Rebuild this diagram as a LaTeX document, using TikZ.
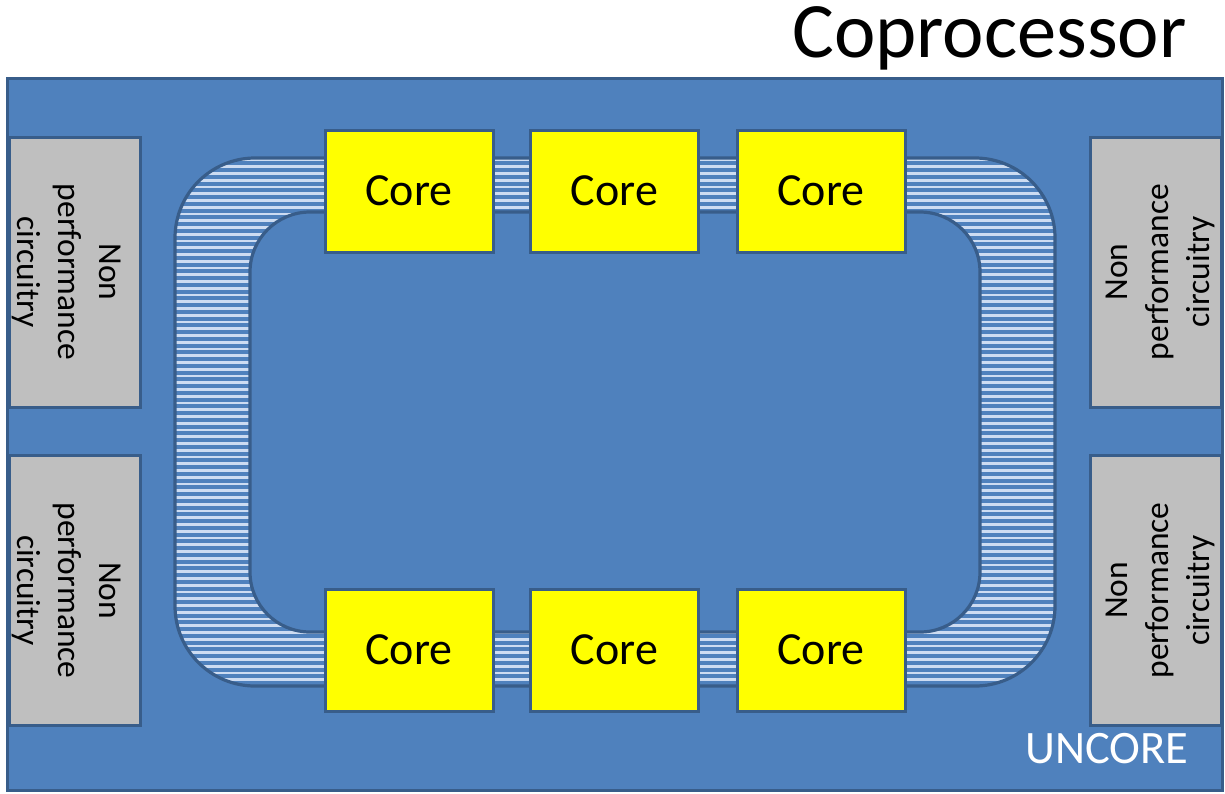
\documentclass[tikz,border=0pt]{standalone}
\usepackage{fontspec}
\setmainfont{Carlito}
\definecolor{bgblue}{HTML}{4F81BD}
\definecolor{edgeblue}{HTML}{385D8A}
\definecolor{stripecol}{RGB}{205,220,242}
\definecolor{grayfill}{HTML}{BFBFBF}
\definecolor{coreyellow}{RGB}{255,255,0}
\begin{document}
\begin{tikzpicture}[x=1pt,y=-1pt,
  corebox/.style={draw=edgeblue, line width=3pt, fill=coreyellow, minimum width=168pt, minimum height=122pt, inner sep=0pt, font=\fontsize{46}{55}\selectfont},
  graybox/.style={draw=edgeblue, line width=3pt, fill=grayfill, minimum width=131pt, minimum height=270pt, inner sep=0pt},
  nptext/.style={align=center, inner sep=0pt, font=\fontsize{33.5}{41}\selectfont},
  ringedge/.style={draw=edgeblue, line width=3.2pt}]
\useasboundingbox (0,0) rectangle (1225,793);
% title
\node[anchor=base west, inner sep=0pt, font=\fontsize{78.5}{94}\selectfont] (title) at (792,57) {Coprocessor};
% die
\draw[fill=bgblue, draw=edgeblue, line width=3pt] (7.5,78.5) rectangle (1222.5,790.5);
% non performance boxes
\node[graybox] (nl1) at (74.5,272) {};
\node[graybox] (nl2) at (74.5,590.5) {};
\node[graybox] (nr1) at (1156,272) {};
\node[graybox] (nr2) at (1156,590.5) {};
\node[nptext, rotate=-90] (tl1) at (67,272) {Non\\performance\\circuitry};
\node[nptext, rotate=-90] (tl2) at (67,590.5) {Non\\performance\\circuitry};
\node[nptext, rotate=90] (tr1) at (1160,272) {Non\\performance\\circuitry};
\node[nptext, rotate=90] (tr2) at (1160,590.5) {Non\\performance\\circuitry};
% ring
\fill[bgblue, rounded corners=80pt] (175,158) rectangle (1055,686);
\begin{scope}
  \clip[rounded corners=80pt] (175,158) rectangle (1055,686);
  \foreach \k in {0,...,78}
    \draw[stripecol, line width=2.7pt] (170,160+\k*6.75) -- (1060,160+\k*6.75);
\end{scope}
\fill[bgblue, rounded corners=60pt] (250,212) rectangle (980,632);
\draw[ringedge, rounded corners=80pt] (175,158) rectangle (1055,686);
\draw[ringedge, rounded corners=60pt] (250,212) rectangle (980,632);
% cores
\node[corebox] (c1) at (409,191) {Core};
\node[corebox] (c2) at (614.5,191) {Core};
\node[corebox] (c3) at (821,191) {Core};
\node[corebox] (c4) at (409,650) {Core};
\node[corebox] (c5) at (614.5,650) {Core};
\node[corebox] (c6) at (821,650) {Core};
% uncore label
\node[anchor=base, inner sep=0pt, text=white, font=\fontsize{46.5}{56}\selectfont] (uncore) at (1107,763) {UNCORE};
\end{tikzpicture}
\end{document}
